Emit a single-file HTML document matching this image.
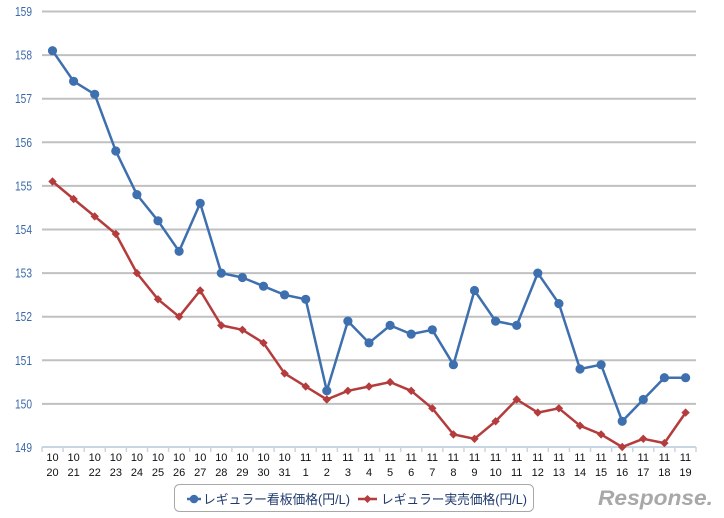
<!DOCTYPE html>
<html><head><meta charset="utf-8"><style>
html,body{margin:0;padding:0;background:#fff;}
svg{display:block;}
</style></head><body>
<svg width="724" height="518" viewBox="0 0 724 518" xmlns="http://www.w3.org/2000/svg">
<rect width="724" height="518" fill="#fff"/>
<g stroke="#c0c0c0" stroke-width="2">
<line x1="42" x2="696" y1="11.5" y2="11.5"/>
<line x1="42" x2="696" y1="55.1" y2="55.1"/>
<line x1="42" x2="696" y1="98.7" y2="98.7"/>
<line x1="42" x2="696" y1="142.3" y2="142.3"/>
<line x1="42" x2="696" y1="185.9" y2="185.9"/>
<line x1="42" x2="696" y1="229.5" y2="229.5"/>
<line x1="42" x2="696" y1="273.1" y2="273.1"/>
<line x1="42" x2="696" y1="316.7" y2="316.7"/>
<line x1="42" x2="696" y1="360.3" y2="360.3"/>
<line x1="42" x2="696" y1="403.9" y2="403.9"/>
</g>
<line x1="42" x2="696" y1="447" y2="447" stroke="#c8d6e4" stroke-width="2"/>
<g stroke="#c8d6e4" stroke-width="1.5" id="ticks"></g>
<g font-family="Liberation Sans, sans-serif" font-size="13" fill="#3a68a8" text-anchor="end">
<text x="32" y="16" textLength="17" lengthAdjust="spacingAndGlyphs">159</text>
<text x="32" y="59.6" textLength="17" lengthAdjust="spacingAndGlyphs">158</text>
<text x="32" y="103.2" textLength="17" lengthAdjust="spacingAndGlyphs">157</text>
<text x="32" y="146.8" textLength="17" lengthAdjust="spacingAndGlyphs">156</text>
<text x="32" y="190.4" textLength="17" lengthAdjust="spacingAndGlyphs">155</text>
<text x="32" y="234" textLength="17" lengthAdjust="spacingAndGlyphs">154</text>
<text x="32" y="277.6" textLength="17" lengthAdjust="spacingAndGlyphs">153</text>
<text x="32" y="321.2" textLength="17" lengthAdjust="spacingAndGlyphs">152</text>
<text x="32" y="364.8" textLength="17" lengthAdjust="spacingAndGlyphs">151</text>
<text x="32" y="408.4" textLength="17" lengthAdjust="spacingAndGlyphs">150</text>
<text x="32" y="452" textLength="17" lengthAdjust="spacingAndGlyphs">149</text>
</g>
<g id="xl" font-family="Liberation Sans, sans-serif" font-size="11" fill="#111" text-anchor="middle"></g>
<polyline fill="none" stroke="#3e6fae" stroke-width="2.5" stroke-linejoin="round" points="52.5,50.7 73.6,81.3 94.7,94.3 115.8,151.0 136.9,194.6 158.0,220.8 179.1,251.3 200.2,203.3 221.3,273.1 242.4,277.5 263.5,286.2 284.6,294.9 305.7,299.3 326.8,390.8 347.9,321.1 369.0,342.9 390.1,325.4 411.2,334.1 432.3,329.8 453.4,364.7 474.5,290.5 495.6,321.1 516.7,325.4 537.8,273.1 558.9,303.6 580.0,369.0 601.1,364.7 622.2,421.3 643.3,399.5 664.4,377.7 685.6,377.7"/>
<polyline fill="none" stroke="#b43c3c" stroke-width="2.5" stroke-linejoin="round" points="52.5,181.5 73.6,199.0 94.7,216.4 115.8,233.9 136.9,273.1 158.0,299.3 179.1,316.7 200.2,290.5 221.3,325.4 242.4,329.8 263.5,342.9 284.6,373.4 305.7,386.5 326.8,399.5 347.9,390.8 369.0,386.5 390.1,382.1 411.2,390.8 432.3,408.3 453.4,434.4 474.5,438.8 495.6,421.3 516.7,399.5 537.8,412.6 558.9,408.3 580.0,425.7 601.1,434.4 622.2,447.0 643.3,438.8 664.4,443.1 685.6,412.6"/>
<g id="bm" fill="#3e6fae"></g>
<g id="rm" fill="#b43c3c"></g>
<rect x="174.5" y="484.5" width="359" height="27" rx="5" ry="5" fill="#fff" stroke="#a8a8a8" stroke-width="1"/>
<line x1="187" x2="201" y1="499" y2="499" stroke="#3e6fae" stroke-width="2.5"/>
<circle cx="194" cy="499" r="4.3" fill="#3e6fae"/>
<text x="203" y="504" font-family="Liberation Sans, 'Noto Sans CJK JP', sans-serif" font-size="13" fill="#1f3a6e" textLength="147" lengthAdjust="spacingAndGlyphs">レギュラー看板価格(円/L)</text>
<line x1="358" x2="377" y1="499" y2="499" stroke="#b43c3c" stroke-width="2.5"/>
<polygon points="367.5,495 371.5,499 367.5,503 363.5,499" fill="#b43c3c"/>
<text x="381" y="504" font-family="Liberation Sans, 'Noto Sans CJK JP', sans-serif" font-size="13" fill="#1f3a6e" textLength="146" lengthAdjust="spacingAndGlyphs">レギュラー実売価格(円/L)</text>
<text x="598" y="505" font-family="Liberation Sans, sans-serif" font-size="21" font-style="italic" font-weight="bold" fill="#a8a8a8" textLength="115" lengthAdjust="spacingAndGlyphs">Response.</text>
<script>
(function(){
var ns="http://www.w3.org/2000/svg";
var t=document.getElementById('ticks');
for(var i=0;i<=31;i++){var x=42+i*21.097;var l=document.createElementNS(ns,'line');l.setAttribute('x1',x);l.setAttribute('x2',x);l.setAttribute('y1',447);l.setAttribute('y2',452);t.appendChild(l);}
var days=[20,21,22,23,24,25,26,27,28,29,30,31,1,2,3,4,5,6,7,8,9,10,11,12,13,14,15,16,17,18,19];
var xl=document.getElementById('xl');
for(var i=0;i<31;i++){var x=52.55+21.097*i;var m=i<12?'10':'11';
var a=document.createElementNS(ns,'text');a.setAttribute('x',x);a.setAttribute('y',461);a.textContent=m;xl.appendChild(a);
var b=document.createElementNS(ns,'text');b.setAttribute('x',x);b.setAttribute('y',476);b.textContent=String(days[i]);xl.appendChild(b);}
var bp="52.5,50.7 73.6,81.3 94.7,94.3 115.8,151.0 136.9,194.6 158.0,220.8 179.1,251.3 200.2,203.3 221.3,273.1 242.4,277.5 263.5,286.2 284.6,294.9 305.7,299.3 326.8,390.8 347.9,321.1 369.0,342.9 390.1,325.4 411.2,334.1 432.3,329.8 453.4,364.7 474.5,290.5 495.6,321.1 516.7,325.4 537.8,273.1 558.9,303.6 580.0,369.0 601.1,364.7 622.2,421.3 643.3,399.5 664.4,377.7 685.6,377.7".split(' ');
var rp="52.5,181.5 73.6,199.0 94.7,216.4 115.8,233.9 136.9,273.1 158.0,299.3 179.1,316.7 200.2,290.5 221.3,325.4 242.4,329.8 263.5,342.9 284.6,373.4 305.7,386.5 326.8,399.5 347.9,390.8 369.0,386.5 390.1,382.1 411.2,390.8 432.3,408.3 453.4,434.4 474.5,438.8 495.6,421.3 516.7,399.5 537.8,412.6 558.9,408.3 580.0,425.7 601.1,434.4 622.2,447.0 643.3,438.8 664.4,443.1 685.6,412.6".split(' ');
var bm=document.getElementById('bm'),rm=document.getElementById('rm');
bp.forEach(function(p){var c=p.split(',');var e=document.createElementNS(ns,'circle');e.setAttribute('cx',c[0]);e.setAttribute('cy',c[1]);e.setAttribute('r',4.6);bm.appendChild(e);});
rp.forEach(function(p){var c=p.split(',');var x=+c[0],y=+c[1];var e=document.createElementNS(ns,'polygon');e.setAttribute('points',x+','+(y-4.2)+' '+(x+4.2)+','+y+' '+x+','+(y+4.2)+' '+(x-4.2)+','+y);rm.appendChild(e);});
})();
</script>
</svg>
</body></html>
